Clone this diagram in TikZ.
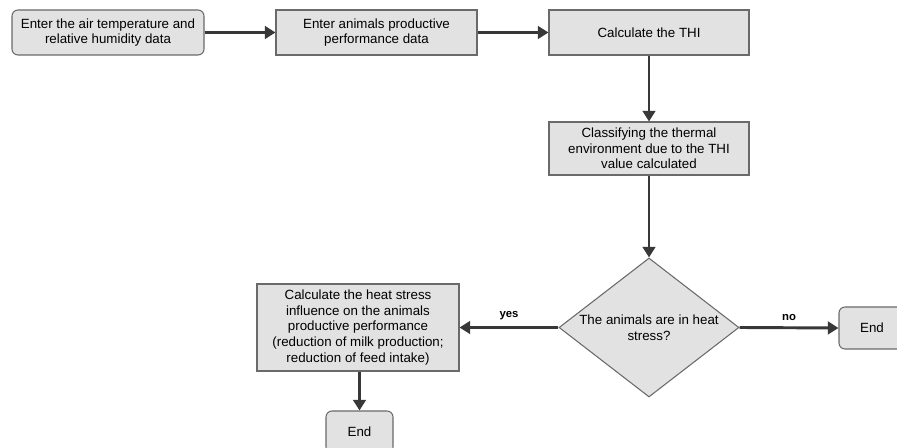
\documentclass[tikz,border=0pt]{standalone}
\usepackage{fontspec}
\setmainfont{Liberation Sans}
\usetikzlibrary{shapes.geometric,arrows.meta}
\definecolor{boxfill}{HTML}{E2E2E2}
\definecolor{boxline}{HTML}{6A6A6A}
\definecolor{arrowc}{HTML}{383838}
\begin{document}
\begin{tikzpicture}[x=0.75pt,y=-0.75pt,
  font=\fontsize{10}{11.8}\selectfont,
  box/.style={draw=boxline,fill=boxfill,line width=0.8pt,align=center,inner sep=2pt},
  rbox/.style={box,rounded corners=4.5pt},
  dec/.style={diamond,shape aspect=1.3,draw=boxline,fill=boxfill,line width=0.8pt,align=center,inner sep=0pt},
  conn/.style={draw=arrowc,line width=2.2pt,-{Triangle[length=8pt,width=9.5pt]}},
  lbl/.style={font=\fontsize{8.5}{10}\selectfont\bfseries,text=black}]
\useasboundingbox[fill=white] (0,0) rectangle (897,448);
\node[rbox,minimum width=144pt,minimum height=33.75pt] (b1) at (108,32.5)
  {Enter the air temperature and\\relative humidity data};
\node[box,minimum width=150.75pt,minimum height=33.75pt] (b2) at (376.5,32.5)
  {Enter animals productive\\performance data};
\node[box,minimum width=150pt,minimum height=33.75pt] (b3) at (649,32.5)
  {Calculate the THI};
\node[box,minimum width=150pt,minimum height=39.75pt] (b4) at (649,148.5)
  {Classifying the thermal\\environment due to the THI\\value calculated};
\node[dec,minimum width=135pt,minimum height=104.25pt] (d) at (649,327.5)
  {The animals are in heat\\stress?};
\node[box,minimum width=151.5pt,minimum height=65.25pt] (c) at (358,327.5)
  {Calculate the heat stress\\influence on the animals\\productive performance\\(reduction of milk production;\\reduction of feed intake)};
\node[rbox,minimum width=50.25pt,minimum height=31.5pt] (e1) at (359.5,432) {End};
\node[rbox,minimum width=49.5pt,minimum height=31.5pt] (e2) at (872,328) {End};
\draw[conn] (b1) -- (b2);
\draw[conn] (b2) -- (b3);
\draw[conn] (b3) -- (b4);
\draw[conn] (b4) -- (d);
\draw[conn] (d.west) -- node[lbl,above=1pt,pos=0.5] (yes) {yes} (c.east);
\draw[conn] (d.east) -- node[lbl,above=1pt,pos=0.5] (no) {no} (e2.west);
\draw[conn] (c.south -| e1.north) -- (e1.north);
\end{tikzpicture}
\end{document}
